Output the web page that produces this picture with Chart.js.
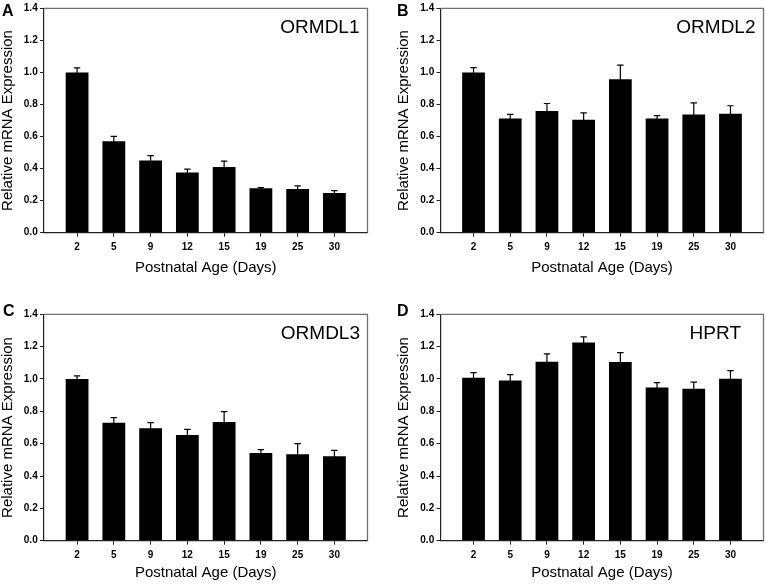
<!DOCTYPE html>
<html><head><meta charset="utf-8">
<script src="https://cdn.jsdelivr.net/npm/chart.js@4/dist/chart.umd.min.js"></script>
<style>
html,body{margin:0;padding:0;background:#fff;}
#wrap{position:relative;width:766px;height:584px;overflow:hidden;background:#fff;}
canvas{position:absolute;display:block;}
</style></head><body>
<div id="wrap">
<canvas id="cA" width="369" height="290" style="left:0;top:0"></canvas>
<canvas id="cB" width="370" height="290" style="left:396px;top:0"></canvas>
<canvas id="cC" width="369" height="294" style="left:0;top:290px"></canvas>
<canvas id="cD" width="370" height="294" style="left:396px;top:290px"></canvas>
</div>
<script>
// ---- data ----
const days = ['2', '5', '9', '12', '15', '19', '25', '30'];
const yTickValues = [0, 0.2, 0.4, 0.6, 0.8, 1.0, 1.2, 1.4];

const ormdl1 = [1.00, 0.57, 0.45, 0.376, 0.41, 0.278, 0.273, 0.247];
const ormdl1Err = [0.028, 0.031, 0.031, 0.021, 0.037, 0.004, 0.019, 0.016];
const ormdl2 = [1.00, 0.713, 0.759, 0.705, 0.958, 0.713, 0.738, 0.742];
const ormdl2Err = [0.03, 0.025, 0.047, 0.043, 0.088, 0.017, 0.072, 0.05];
const ormdl3 = [1.00, 0.73, 0.695, 0.654, 0.734, 0.542, 0.534, 0.522];
const ormdl3Err = [0.019, 0.031, 0.035, 0.035, 0.064, 0.021, 0.066, 0.037];
const hprt = [1.008, 0.99, 1.107, 1.225, 1.105, 0.948, 0.94, 1.002];
const hprtErr = [0.031, 0.037, 0.048, 0.035, 0.058, 0.029, 0.041, 0.05];

const xTitle = 'Postnatal Age (Days)';
const yTitle = 'Relative mRNA Expression';

// ---- panel layout (styles / positions only) ----
const panels = [
  {id:'cA', letter:'A', gene:'ORMDL1', vals:ormdl1, errs:ormdl1Err, yW:44, padTop:5.7, padRight:1.5, xH:57.3, xTitlePad:13.75, geneInset:8, letterX:2, letterY:15.5},
  {id:'cB', letter:'B', gene:'ORMDL2', vals:ormdl2, errs:ormdl2Err, yW:44.5, padTop:5.7, padRight:2.5, xH:57.3, xTitlePad:13.75, geneInset:8, letterX:1, letterY:15.5},
  {id:'cC', letter:'C', gene:'ORMDL3', vals:ormdl3, errs:ormdl3Err, yW:44, padTop:24.3, padRight:1.5, xH:43.3, xTitlePad:3, geneInset:7.5, letterX:3, letterY:26},
  {id:'cD', letter:'D', gene:'HPRT', vals:hprt, errs:hprtErr, yW:44.5, padTop:24.3, padRight:2.5, xH:43.3, xTitlePad:3, geneInset:22.5, letterX:1, letterY:26}
];

const FONT = '"Liberation Sans", Arial, Helvetica, sans-serif';

const errorBars = {
  id: 'errorBars',
  afterDatasetsDraw(chart) {
    const ctx = chart.ctx;
    const ds = chart.data.datasets[0];
    const meta = chart.getDatasetMeta(0);
    const ys = chart.scales.y;
    ctx.save();
    ctx.strokeStyle = '#000';
    ctx.lineWidth = 1.2;
    meta.data.forEach((bar, i) => {
      const v = ds.data[i].y;
      const top = ys.getPixelForValue(v + ds.errors[i]);
      ctx.beginPath();
      ctx.moveTo(bar.x, bar.y + 2);
      ctx.lineTo(bar.x, top);
      ctx.moveTo(bar.x - 3.2, top);
      ctx.lineTo(bar.x + 3.2, top);
      ctx.stroke();
    });
    ctx.restore();
  }
};

const decor = {
  id: 'decor',
  afterDraw(chart, args, opts) {
    const ctx = chart.ctx;
    const a = chart.chartArea;
    ctx.save();
    ctx.strokeStyle = '#6f6f6f';
    ctx.lineWidth = 1.3;
    ctx.beginPath();
    ctx.moveTo(a.left, a.top);
    ctx.lineTo(a.right, a.top);
    ctx.lineTo(a.right, a.bottom);
    ctx.stroke();
    ctx.fillStyle = '#000';
    ctx.font = '19px ' + FONT;
    ctx.textAlign = 'right';
    ctx.textBaseline = 'alphabetic';
    ctx.fillText(opts.gene, a.right - opts.geneInset, a.top + 24.3);
    ctx.font = 'bold 16px ' + FONT;
    ctx.textAlign = 'left';
    ctx.fillText(opts.letter, opts.letterX, opts.letterY);
    ctx.restore();
  }
};

panels.forEach(p => {
  new Chart(document.getElementById(p.id), {
    type: 'bar',
    data: {
      datasets: [{
        data: p.vals.map((v, i) => ({x: i, y: v})),
        errors: p.errs,
        backgroundColor: '#000',
        borderWidth: 0,
        barPercentage: 0.62,
        categoryPercentage: 1
      }]
    },
    options: {
      responsive: false,
      animation: false,
      devicePixelRatio: 1,
      layout: {padding: {top: p.padTop, right: p.padRight, left: 0, bottom: 0}},
      plugins: {
        legend: {display: false},
        tooltip: {enabled: false},
        decor: {gene: p.gene, letter: p.letter, geneInset: p.geneInset, letterX: p.letterX, letterY: p.letterY}
      },
      scales: {
        x: {
          type: 'linear',
          offset: false,
          min: -0.9,
          max: 7.9,
          afterBuildTicks: s => { s.ticks = days.map((d, i) => ({value: i})); },
          afterFit: s => { s.height = p.xH; },
          ticks: {
            callback: v => days[v],
            color: '#000',
            font: {family: FONT, size: 10, weight: 'bold'},
            padding: 5,
            maxRotation: 0,
            autoSkip: false
          },
          grid: {offset: false, drawOnChartArea: false, drawTicks: true, tickLength: 4, color: '#222', lineWidth: 1},
          border: {display: true, color: '#222', width: 1.2},
          title: {display: true, text: xTitle, color: '#000', font: {family: FONT, size: 15, lineHeight: 1.1}, padding: {top: 0, bottom: p.xTitlePad}}
        },
        y: {
          min: 0,
          max: 1.4,
          afterBuildTicks: s => { s.ticks = yTickValues.map(v => ({value: v})); },
          afterFit: s => { s.width = p.yW; },
          ticks: {
            callback: v => Number(v).toFixed(1),
            color: '#000',
            font: {family: FONT, size: 10, weight: 'bold'},
            padding: 2.3
          },
          grid: {drawOnChartArea: false, drawTicks: true, tickLength: 4, color: '#222', lineWidth: 1},
          border: {display: true, color: '#222', width: 1.2},
          title: {display: true, text: yTitle, color: '#000', font: {family: FONT, size: 15, lineHeight: 1.1}, padding: {top: 0, bottom: 0}}
        }
      }
    },
    plugins: [errorBars, decor]
  });
});
</script>
</body></html>
